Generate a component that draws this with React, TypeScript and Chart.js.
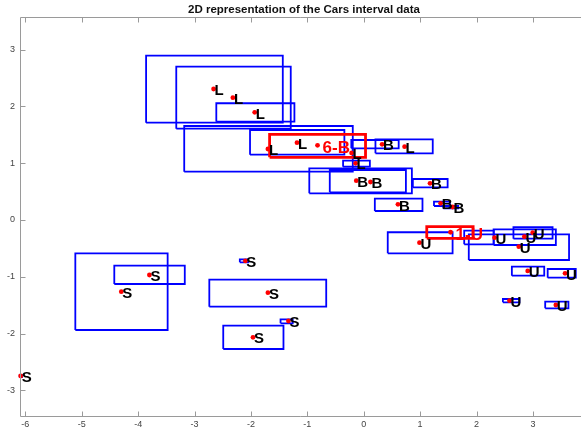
import React, { useEffect, useRef } from "react";
import { Chart, registerables } from "chart.js";
Chart.register(...registerables);

const chartTitle = "2D representation of the Cars interval data";
const xTicks = [-6, -5, -4, -3, -2, -1, 0, 1, 2, 3];
const yTicks = [-3, -2, -1, 0, 1, 2, 3];

// Blue interval rectangles
const boxXMin = [-3.859, -3.324, -2.614, -3.183, -2.016, -0.366, -0.22, 0.208, -0.965, -0.602, 0.871, 0.197, 1.246, 1.412, 0.426, 1.782, 2.303, 2.655, 1.863, 2.627, 3.262, 2.468, 3.218, -5.114, -4.423, -2.197, -2.738, -1.475, -2.491, -6.1];
const boxXMax = [-1.435, -1.294, -1.229, -0.194, -0.343, 0.109, 0.62, 1.224, 0.854, 0.748, 1.488, 1.042, 1.528, 1.676, 1.576, 2.306, 3.407, 3.349, 3.641, 3.201, 3.76, 2.761, 3.63, -3.477, -3.173, -2.051, -0.665, -1.259, -1.423, -6.06];
const boxYMin = [1.712, 1.607, 1.73, 0.85, 1.149, 0.938, 1.262, 1.174, 0.47, 0.487, 0.575, 0.158, 0.246, 0.206, -0.586, -0.428, -0.44, -0.329, -0.704, -0.98, -1.015, -1.448, -1.554, -1.936, -1.126, -0.744, -1.526, -1.818, -2.27, -2.765];
const boxYMax = [2.891, 2.698, 2.054, 1.654, 1.584, 1.043, 1.408, 1.42, 0.91, 0.88, 0.721, 0.375, 0.322, 0.246, -0.216, -0.188, -0.164, -0.128, -0.252, -0.822, -0.862, -1.39, -1.437, -0.586, -0.804, -0.692, -1.05, -1.747, -1.86, -2.728];

// Red (prototype) rectangles
const redBoxXMin = [-1.669, 1.118];
const redBoxXMax = [0.032, 1.94];
const redBoxYMin = [1.103, -0.322];
const redBoxYMax = [1.508, -0.118];

// Points and labels
const pointX = [-2.662, -2.32, -1.933, -1.699, -1.183, -0.215, -0.144, 0.725, -0.819, 0.326, -0.132, 0.12, 1.176, 0.607, 1.364, 1.576, 1.54, 0.989, 2.32, 2.75, 2.849, 2.996, 2.908, 3.57, 2.585, 3.407, -3.8, -4.299, -2.099, -1.699, -1.335, -1.963, -6.083];
const pointY = [2.305, 2.152, 1.895, 1.249, 1.36, 1.179, 0.998, 1.29, 1.314, 1.332, 0.692, 0.669, 0.646, 0.276, 0.294, 0.229, -0.216, -0.399, -0.311, -0.47, -0.294, -0.223, -0.897, -0.938, -1.42, -1.496, -0.968, -1.262, -0.721, -1.279, -1.777, -2.064, -2.745];
const pointLabel = ["L", "L", "L", "L", "L", "L", "L", "L", "6-B", "B", "B", "B", "B", "B", "B", "B", "1-U", "U", "U", "U", "U", "U", "U", "U", "U", "U", "S", "S", "S", "S", "S", "S", "S"];
const redLabels = ["6-B", "1-U"];

const X_MIN = -6.095;
const X_MAX = 3.782;
const Y_MIN = -3.449;
const Y_MAX = 3.572;

const FONT = '"Liberation Sans", Arial, Helvetica, sans-serif';

function rect(x0: number, x1: number, y0: number, y1: number) {
  return [
    { x: x0, y: y0 },
    { x: x1, y: y0 },
    { x: x1, y: y1 },
    { x: x0, y: y1 },
    { x: x0, y: y0 },
  ];
}

const decor = {
  id: "decor",
  afterDatasetsDraw(chart: any) {
    const ctx = chart.ctx;
    const xs = chart.scales.x;
    const ys = chart.scales.y;
    ctx.save();
    pointX.forEach((vx, i) => {
      const px = xs.getPixelForValue(vx);
      const py = ys.getPixelForValue(pointY[i]);
      const lab = pointLabel[i];
      const isRed = redLabels.includes(lab);
      ctx.fillStyle = isRed ? "#ff0000" : "#000000";
      ctx.font = isRed ? `bold 17px ${FONT}` : `bold 15px ${FONT}`;
      ctx.textAlign = "left";
      ctx.textBaseline = "alphabetic";
      ctx.fillText(lab, px + (isRed ? 5 : 1), py + (isRed ? 7.5 : 6.2));
    });
    ctx.restore();
  },
  afterDraw(chart: any) {
    const ctx = chart.ctx;
    const xs = chart.scales.x;
    const ys = chart.scales.y;
    const a = chart.chartArea;
    const W = chart.width;
    ctx.save();
    ctx.strokeStyle = "#9a9a9a";
    ctx.lineWidth = 1;
    ctx.beginPath();
    const L = Math.round(a.left) + 0.5;
    const T = Math.round(a.top) + 0.5;
    const B = Math.round(a.bottom) + 0.5;
    ctx.moveTo(L, T);
    ctx.lineTo(L, B);
    ctx.moveTo(L, T);
    ctx.lineTo(W, T);
    ctx.moveTo(L, B);
    ctx.lineTo(W, B);
    xTicks.forEach((v) => {
      const px = Math.round(xs.getPixelForValue(v)) + 0.5;
      ctx.moveTo(px, B);
      ctx.lineTo(px, B - 5);
      ctx.moveTo(px, T);
      ctx.lineTo(px, T + 5);
    });
    yTicks.forEach((v) => {
      const py = Math.round(ys.getPixelForValue(v)) + 0.5;
      ctx.moveTo(L, py);
      ctx.lineTo(L + 5, py);
    });
    ctx.stroke();

    ctx.fillStyle = "#444444";
    ctx.font = `9px ${FONT}`;
    ctx.textAlign = "center";
    ctx.textBaseline = "middle";
    xTicks.forEach((v) => {
      ctx.fillText(String(v), xs.getPixelForValue(v), a.bottom + 8.5);
    });
    ctx.textAlign = "right";
    yTicks.forEach((v) => {
      ctx.fillText(String(v), a.left - 5, ys.getPixelForValue(v));
    });

    ctx.fillStyle = "#111111";
    ctx.font = `bold 11.5px ${FONT}`;
    ctx.textAlign = "center";
    ctx.textBaseline = "middle";
    ctx.fillText(chartTitle, 304, 10);
    ctx.restore();
  },
};

export default function App() {
  const ref = useRef<HTMLCanvasElement>(null);
  useEffect(() => {
    if (!ref.current) return;
    const pointsDs = {
      data: pointX.map((x, i) => ({ x, y: pointY[i] })),
      showLine: false,
      pointRadius: 2.4,
      pointBackgroundColor: "#ff0000",
      pointBorderWidth: 0,
      borderColor: "#ff0000",
      clip: false,
    };
    const redDs = redBoxXMin.map((x0, i) => ({
      data: rect(x0, redBoxXMax[i], redBoxYMin[i], redBoxYMax[i]),
      showLine: true,
      borderColor: "#ff0000",
      borderWidth: 2.8,
      pointRadius: 0,
      fill: false,
      tension: 0,
      clip: false,
    }));
    const blueDs = boxXMin.map((x0, i) => ({
      data: rect(x0, boxXMax[i], boxYMin[i], boxYMax[i]),
      showLine: true,
      borderColor: "#0000ff",
      borderWidth: 1.8,
      pointRadius: 0,
      fill: false,
      tension: 0,
      clip: false,
    }));
    const chart = new Chart(ref.current, {
      type: "scatter",
      data: { datasets: [pointsDs, ...redDs, ...blueDs] as any },
      options: {
        animation: false,
        responsive: false,
        devicePixelRatio: 1,
        events: [],
        layout: { padding: { left: 20, top: 17, right: 0, bottom: 14 } },
        scales: {
          x: { type: "linear", min: X_MIN, max: X_MAX, display: false },
          y: { type: "linear", min: Y_MIN, max: Y_MAX, display: false },
        },
        plugins: {
          legend: { display: false },
          tooltip: { enabled: false },
          title: { display: false },
        },
      },
      plugins: [decor],
    });
    return () => chart.destroy();
  }, []);
  return (
    <div style={{ position: "fixed", left: 0, top: 0, width: 581, height: 430, background: "#ffffff", overflow: "hidden" }}>
      <canvas ref={ref} width={581} height={430} style={{ display: "block" }} />
    </div>
  );
}
